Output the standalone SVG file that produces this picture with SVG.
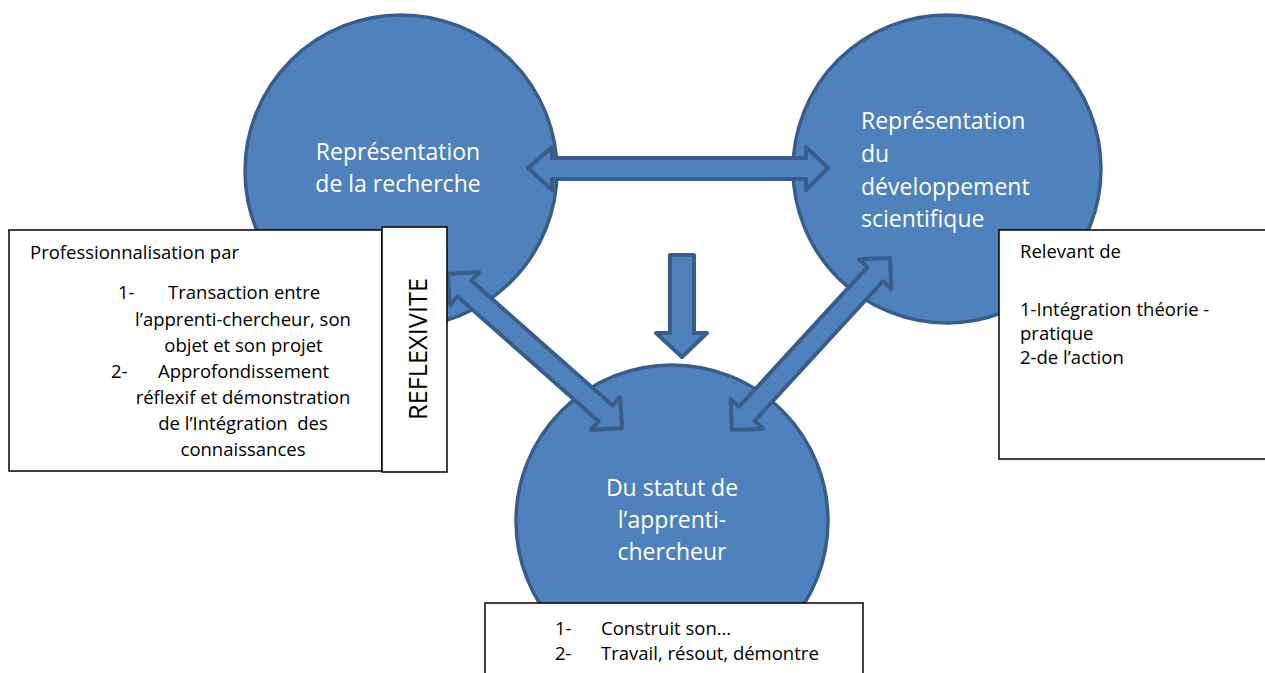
<svg xmlns="http://www.w3.org/2000/svg" width="1265" height="673" viewBox="0 0 1265 673">
<style>
.circ{fill:#4F81BD;stroke:#385D8A;stroke-width:3.5}
.arr{fill:#4F81BD;stroke:#385D8A;stroke-width:4;stroke-linejoin:round}
.box{fill:#fff;stroke:#000;stroke-width:1.5}
.ct{font-family:"Open Sans","Liberation Sans",sans-serif;font-size:23px;fill:#fff}
.bt{font-family:"Open Sans","Liberation Sans",sans-serif;font-size:18.5px;fill:#000}
.mid{text-anchor:middle}
</style>
<rect width="1265" height="673" fill="#fff"/>
<g id="node-recherche">
<circle class="circ" cx="401" cy="171" r="156"/>
<text class="ct mid" x="398" y="160">Représentation</text>
<text class="ct mid" x="398" y="192">de la recherche</text>
</g>
<g id="node-developpement">
<circle class="circ" cx="947" cy="169" r="154"/>
<text class="ct" x="861" y="129">Représentation</text>
<text class="ct" x="861" y="162">du</text>
<text class="ct" x="861" y="195">développement</text>
<text class="ct" x="861" y="227">scientifique</text>
</g>
<g id="node-statut">
<circle class="circ" cx="672" cy="521" r="156"/>
<text class="ct mid" x="672" y="496">Du statut de</text>
<text class="ct mid" x="672" y="528">l’apprenti-</text>
<text class="ct mid" x="672" y="560">chercheur</text>
</g>
<g id="connectors">
<polygon class="arr" points="528,168 552,147 552,158 806,158 806,147 828,168 806,190 806,179 552,179 552,190"/>
<polygon class="arr" points="670,255 694,255 694,333 707,333 682,357 656,333 670,333"/>
<polygon class="arr" transform="translate(448,274) rotate(41.5)" points="0,0 22,-22 22,-10.5 210.4,-10.5 210.4,-22 232.4,0 210.4,22 210.4,10.5 22,10.5 22,22"/>
<polygon class="arr" transform="translate(732,430) rotate(-47.43)" points="0,0 22,-22 22,-10.5 211.6,-10.5 211.6,-22 233.6,0 211.6,22 211.6,10.5 22,10.5 22,22"/>
</g>
<g id="box-professionnalisation">
<rect class="box" x="9" y="230" width="373" height="241"/>
<text class="bt" x="30" y="259">Professionnalisation par</text>
<text class="bt" x="118" y="299">1-</text>
<text class="bt" x="168" y="299">Transaction entre</text>
<text class="bt mid" x="243" y="326">l’apprenti-chercheur, son</text>
<text class="bt mid" x="243.5" y="352">objet et son projet</text>
<text class="bt" x="111" y="378">2-</text>
<text class="bt" x="158" y="378">Approfondissement</text>
<text class="bt mid" x="243" y="404">réflexif et démonstration</text>
<text class="bt mid" x="243" y="430" xml:space="preserve">de l’Intégration  des</text>
<text class="bt mid" x="243" y="456">connaissances</text>
</g>
<g id="box-reflexivite">
<rect class="box" x="382" y="227" width="65" height="245"/>
<text transform="translate(427,349) rotate(-90)" text-anchor="middle" font-family="Open Sans, Liberation Sans, sans-serif" font-size="26" textLength="142" lengthAdjust="spacingAndGlyphs" fill="#000">REFLEXIVITE</text>
</g>
<g id="box-relevant">
<rect class="box" x="999" y="230" width="270" height="229"/>
<text class="bt" x="1020" y="258">Relevant de</text>
<text class="bt" x="1020" y="316">1-Intégration théorie -</text>
<text class="bt" x="1020" y="340">pratique</text>
<text class="bt" x="1020" y="364">2-de l’action</text>
</g>
<g id="box-construit">
<rect class="box" x="485" y="603" width="378" height="80"/>
<text class="bt" x="555" y="635">1-</text>
<text class="bt" x="601" y="635">Construit son…</text>
<text class="bt" x="555" y="660">2-</text>
<text class="bt" x="601" y="660">Travail, résout, démontre</text>
</g>
</svg>
